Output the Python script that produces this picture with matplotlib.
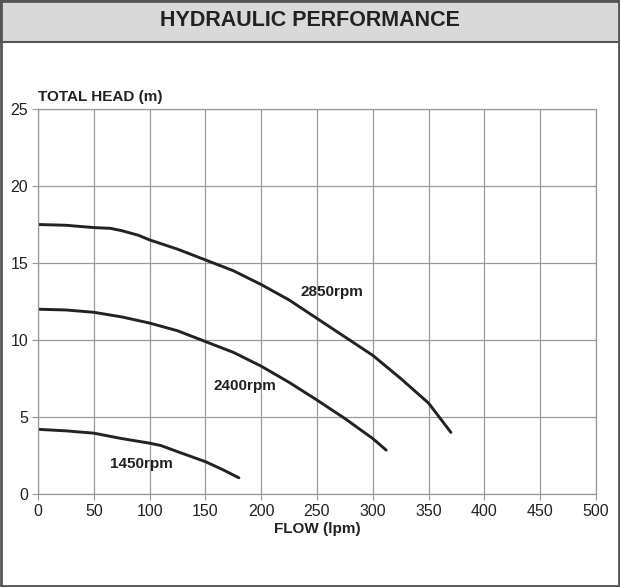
import matplotlib.pyplot as plt
from matplotlib.patches import Rectangle

# pump curves (flow lpm, head m)
flow_2850 = [0, 25, 50, 65, 75, 90, 100, 125, 150, 175, 200, 225, 250, 275, 300, 325, 350, 370]
head_2850 = [17.5, 17.45, 17.3, 17.25, 17.1, 16.8, 16.5, 15.9, 15.2, 14.5, 13.6, 12.6, 11.4,
             10.2, 9.0, 7.5, 5.9, 4.0]

flow_2400 = [0, 25, 50, 75, 100, 125, 150, 175, 200, 225, 250, 275, 300, 312]
head_2400 = [12.0, 11.95, 11.8, 11.5, 11.1, 10.6, 9.9, 9.2, 8.3, 7.25, 6.1, 4.9, 3.6, 2.85]

flow_1450 = [0, 25, 50, 75, 100, 110, 125, 150, 165, 180]
head_1450 = [4.2, 4.1, 3.95, 3.6, 3.3, 3.15, 2.75, 2.1, 1.6, 1.05]

labels = ["2850rpm", "2400rpm", "1450rpm"]
label_pos = [(263, 13.1), (185, 7.0), (93, 1.95)]

x_ticks = list(range(0, 501, 50))
y_ticks = list(range(0, 26, 5))

plt.rcParams['font.family'] = ['Liberation Sans', 'DejaVu Sans']

fig = plt.figure(figsize=(6.2, 5.87), dpi=100)

# title band and outer frame
fig.patches.append(Rectangle((0, 1 - 42 / 587), 1, 42 / 587, transform=fig.transFigure,
                             facecolor='#d9d9d9', edgecolor='#555555', lw=1.5, zorder=0))
fig.patches.append(Rectangle((0.002, 0.002), 0.996, 0.996, transform=fig.transFigure,
                             facecolor='none', edgecolor='#555555', lw=2, zorder=5))
fig.text(0.5, 1 - 21 / 587, "HYDRAULIC PERFORMANCE", ha='center', va='center',
         fontsize=15.5, fontweight='bold', color='#222222')

ax = fig.add_axes([38 / 620, 93 / 587, 558 / 620, 385 / 587])
ax.set_xlim(0, 500)
ax.set_ylim(0, 25)
ax.set_xticks(x_ticks)
ax.set_yticks(y_ticks)
ax.grid(True, color='#999999', lw=0.9)
for s in ax.spines.values():
    s.set_color('#999999')
    s.set_linewidth(0.9)
ax.tick_params(length=4, color='#999999', labelsize=11.5, labelcolor='#222222', pad=3)

for fl, hd in [(flow_2850, head_2850), (flow_2400, head_2400), (flow_1450, head_1450)]:
    ax.plot(fl, hd, color='#222222', lw=2.1, solid_capstyle='round', solid_joinstyle='round')

for lab, (lx, ly) in zip(labels, label_pos):
    ax.text(lx, ly, lab, ha='center', va='center', fontsize=11, fontweight='bold',
            color='#222222')

ax.set_xlabel("FLOW (lpm)", fontsize=11, fontweight='bold', color='#222222', labelpad=2)
fig.text(38 / 620, 1 - 97 / 587, "TOTAL HEAD (m)", ha='left', va='center',
         fontsize=11, fontweight='bold', color='#222222')

fig.savefig("out.png", dpi=100)
